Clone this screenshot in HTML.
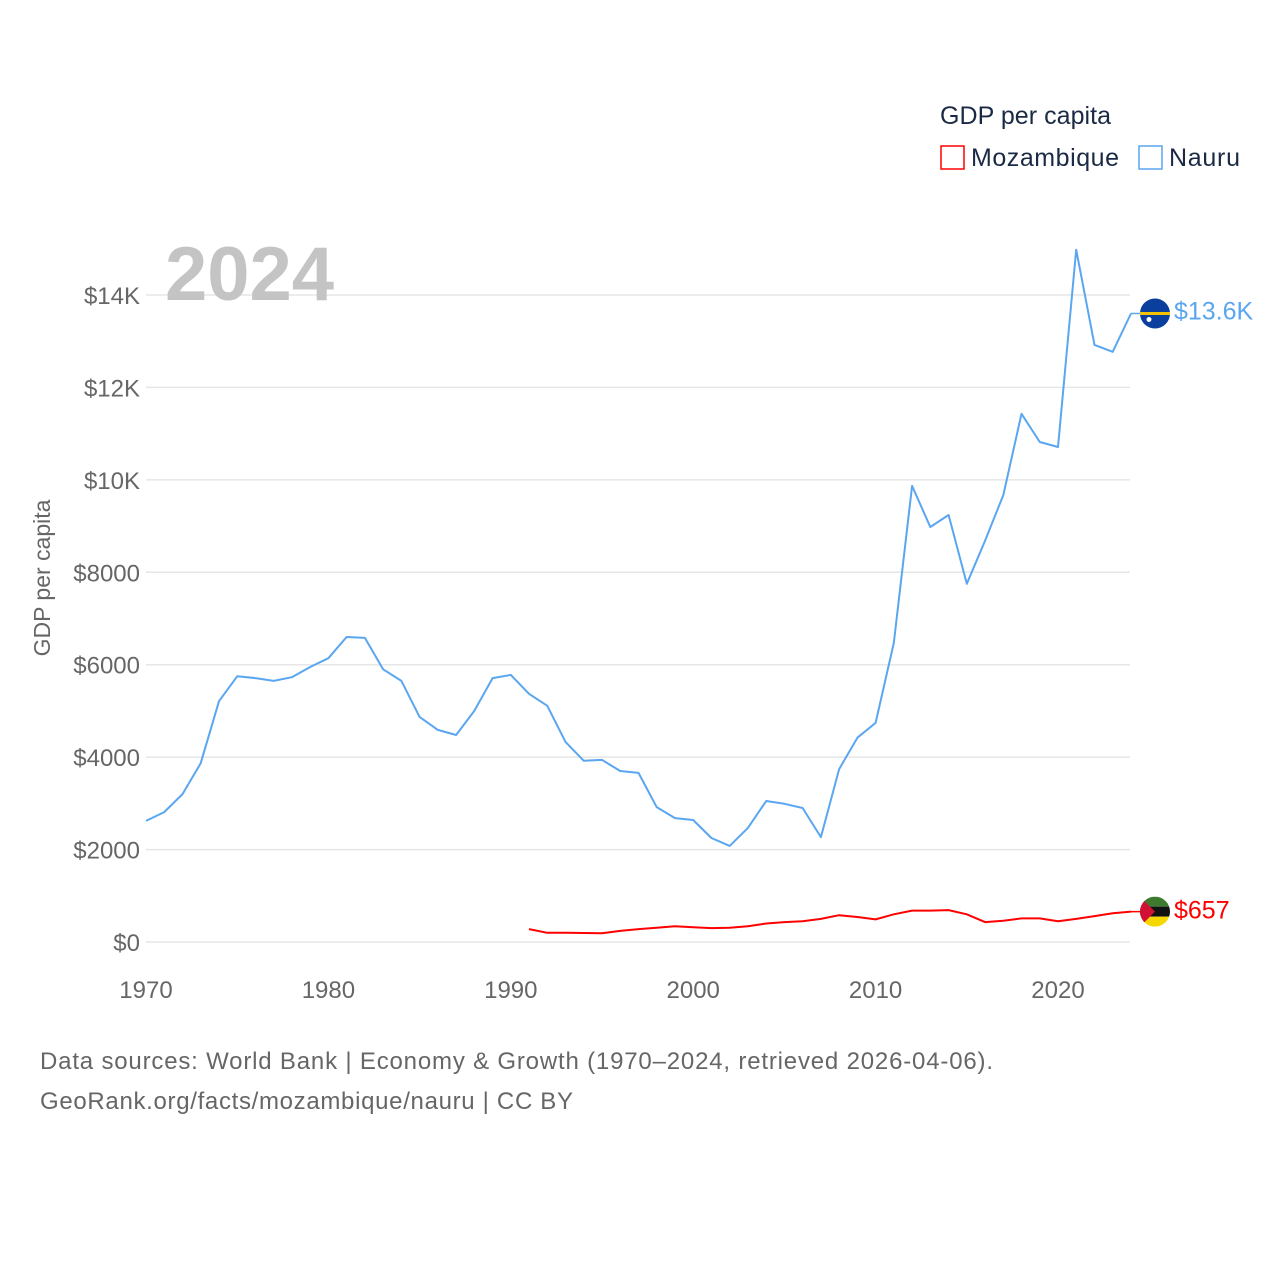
<!DOCTYPE html>
<html><head><meta charset="utf-8"><style>
body{margin:0;background:#fff;font-family:"Liberation Sans",sans-serif}
svg text{font-family:"Liberation Sans",sans-serif}
</style></head><body>
<svg id="chart" width="1280" height="1280" viewBox="0 0 1280 1280" xmlns="http://www.w3.org/2000/svg">
<rect width="1280" height="1280" fill="#fff"/>
<g id="grid"></g>
<g id="yticks"></g>
<g id="xticks"></g>
<text x="165" y="300" font-size="76" font-weight="bold" fill="#c4c4c4">2024</text>
<text transform="translate(50,578) rotate(-90)" text-anchor="middle" font-size="23" fill="#666">GDP per capita</text>
<g id="series"></g>
<g>
<text x="940" y="124" font-size="25" fill="#1a2a44" textLength="171">GDP per capita</text>
<rect x="941" y="146" width="23" height="23" fill="none" stroke="#f00" stroke-width="1.5"/>
<text x="971" y="166" font-size="25" fill="#1a2a44" textLength="148">Mozambique</text>
<rect x="1139" y="146" width="23" height="23" fill="none" stroke="#5aa6f0" stroke-width="1.5"/>
<text x="1169" y="166" font-size="25" fill="#1a2a44" textLength="71">Nauru</text>
</g>
<text x="40" y="1069" font-size="24" fill="#666" textLength="953">Data sources: World Bank | Economy &amp; Growth (1970–2024, retrieved 2026-04-06).</text>
<text x="40" y="1109" font-size="24" fill="#666" textLength="533">GeoRank.org/facts/mozambique/nauru | CC BY</text>
</svg>
<script>
const yTicks=[0,2000,4000,6000,8000,10000,12000,14000];
const yTickLabels=["$0","$2000","$4000","$6000","$8000","$10K","$12K","$14K"];
const xTicks=[1970,1980,1990,2000,2010,2020];
const nauruYears=[1970,1971,1972,1973,1974,1975,1976,1977,1978,1979,1980,1981,1982,1983,1984,1985,1986,1987,1988,1989,1990,1991,1992,1993,1994,1995,1996,1997,1998,1999,2000,2001,2002,2003,2004,2005,2006,2007,2008,2009,2010,2011,2012,2013,2014,2015,2016,2017,2018,2019,2020,2021,2022,2023,2024];
const nauruValues=[2620,2810,3200,3870,5210,5750,5710,5650,5730,5950,6140,6600,6580,5900,5650,4870,4590,4480,5000,5710,5780,5370,5110,4330,3920,3940,3700,3660,2920,2680,2640,2250,2080,2470,3050,2990,2900,2270,3740,4420,4740,6470,9870,8980,9240,7750,8680,9670,11430,10820,10710,14980,12920,12770,13600];
const mozYears=[1991,1992,1993,1994,1995,1996,1997,1998,1999,2000,2001,2002,2003,2004,2005,2006,2007,2008,2009,2010,2011,2012,2013,2014,2015,2016,2017,2018,2019,2020,2021,2022,2023,2024];
const mozValues=[280,200,200,195,190,240,280,310,340,320,300,310,340,400,430,450,500,580,540,490,600,680,680,690,600,430,460,510,510,450,500,560,620,657];
const NS="http://www.w3.org/2000/svg";
const xS=y=>146+(y-1970)*18.24;
const yS=v=>942-v*(647/14000);
function mk(t,a,p){const e=document.createElementNS(NS,t);for(const k in a)e.setAttribute(k,a[k]);p.appendChild(e);return e;}
const grid=document.getElementById('grid'),yt=document.getElementById('yticks'),xt=document.getElementById('xticks'),ser=document.getElementById('series');
yTicks.forEach((v,i)=>{
 const l=mk('line',{x1:146,x2:1130,y1:yS(v),y2:yS(v),stroke:'#e6e6e6','stroke-width':1.5},grid);
 
 
 const t=mk('text',{x:140,y:yS(v)+9,'text-anchor':'end','font-size':24,fill:'#666'},yt);
 t.textContent=yTickLabels[i];
 
 
});
xTicks.forEach(y=>{
 const t=mk('text',{x:xS(y),y:998,'text-anchor':'middle','font-size':24,fill:'#666'},xt);
 t.textContent=y;
 
 
});
function line(xs,vs,color,w,name){
 const d=xs.map((y,i)=>(i?'L':'M')+xS(y).toFixed(1)+','+yS(vs[i]).toFixed(1)).join('');
 const p=mk('path',{d:d,fill:'none',stroke:color,'stroke-width':w,'stroke-linejoin':'round'},ser);
 
 
}
line(nauruYears,nauruValues,'#5aa6f0',2,'nauru-line');
line(mozYears,mozValues,'#f00',2,'mozambique-line');
const nv=nauruValues[nauruValues.length-1],mv=mozValues[mozValues.length-1];
const ny=yS(nv),my=yS(mv),ex=xS(2024);
mk('line',{x1:ex,x2:1142,y1:ny,y2:ny,stroke:'#5aa6f0','stroke-width':1.5},ser);
mk('line',{x1:ex,x2:1142,y1:my,y2:my,stroke:'#f00','stroke-width':1.5},ser);
const f1=mk('g',{},ser);


mk('circle',{cx:1155,cy:ny,r:15,fill:'#0b3f9e'},f1);
mk('rect',{x:1140,y:ny-1.5,width:30,height:3,fill:'#f5c400'},f1);
mk('circle',{cx:1149,cy:ny+6,r:2.5,fill:'#fff'},f1);
const f2=mk('g',{},ser);


mk('clipPath',{id:'cp'},f2);
mk('circle',{cx:1155,cy:my,r:15},document.getElementById('cp'));
const g2=mk('g',{'clip-path':'url(#cp)'},f2);
mk('rect',{x:1140,y:my-15,width:30,height:10,fill:'#3d7a2f'},g2);
mk('rect',{x:1140,y:my-5,width:30,height:10,fill:'#111'},g2);
mk('rect',{x:1140,y:my+5,width:30,height:10,fill:'#f5d800'},g2);
mk('polygon',{points:`1140,${my-15} 1155,${my} 1140,${my+15}`,fill:'#d21034'},g2);
const l1=mk('text',{x:1174,y:ny+6,'font-size':25,fill:'#5aa6f0'},ser);
l1.textContent='$13.6K';


const l2=mk('text',{x:1174,y:my+7,'font-size':25,fill:'#f00'},ser);
l2.textContent='$657';


</script>
</body></html>
